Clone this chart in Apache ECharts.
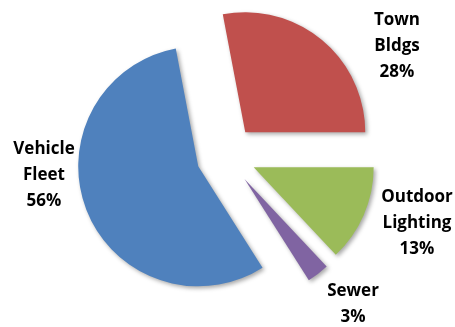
<!DOCTYPE html>
<html>
<head>
<meta charset="utf-8">
<script src="https://cdn.jsdelivr.net/npm/echarts@6/dist/echarts.min.js"></script>
<style>
  html, body { margin: 0; padding: 0; background: #fff; }
  #chart { width: 455px; height: 327px; }
</style>
</head>
<body>
<div id="chart"></div>
<script>
// 数据
const categories = ['Town Bldgs', 'Outdoor Lighting', 'Sewer', 'Vehicle Fleet'];
const shares = [28, 13, 3, 56];
const sliceColors = ['#C0504D', '#9BBB59', '#8064A2', '#4F81BD'];
// 标签中心位置（像素）
const labelPos = [[397, 46], [417, 223], [353, 304], [44, 175]];

const chart = echarts.init(document.getElementById('chart'));

const option = {
  animation: false,
  // 标签用 graphic 文本，放在各扇区旁边
  graphic: categories.map((name, i) => ({
    type: 'text',
    x: labelPos[i][0],
    y: labelPos[i][1],
    style: {
      text: name.replace(' ', '\n') + '\n' + shares[i] + '%',
      font: 'bold 17px "Open Sans"',
      lineHeight: 26,
      fill: '#000',
      align: 'center',
      verticalAlign: 'middle'
    }
  })),
  series: [
    {
      type: 'pie',
      center: ['49.7%', '47.5%'],
      radius: 120,
      startAngle: 100.8,
      clockwise: true,
      selectedMode: 'multiple',
      selectedOffset: 30,
      label: { show: false },
      labelLine: { show: false },
      itemStyle: {
        shadowBlur: 4,
        shadowColor: 'rgba(0,0,0,0.35)',
        shadowOffsetX: 2,
        shadowOffsetY: 2
      },
      emphasis: { disabled: true },
      data: categories.map((name, i) => ({
        name,
        value: shares[i],
        selected: true,
        itemStyle: { color: sliceColors[i] }
      }))
    }
  ]
};

chart.setOption(option);
</script>
</body>
</html>
